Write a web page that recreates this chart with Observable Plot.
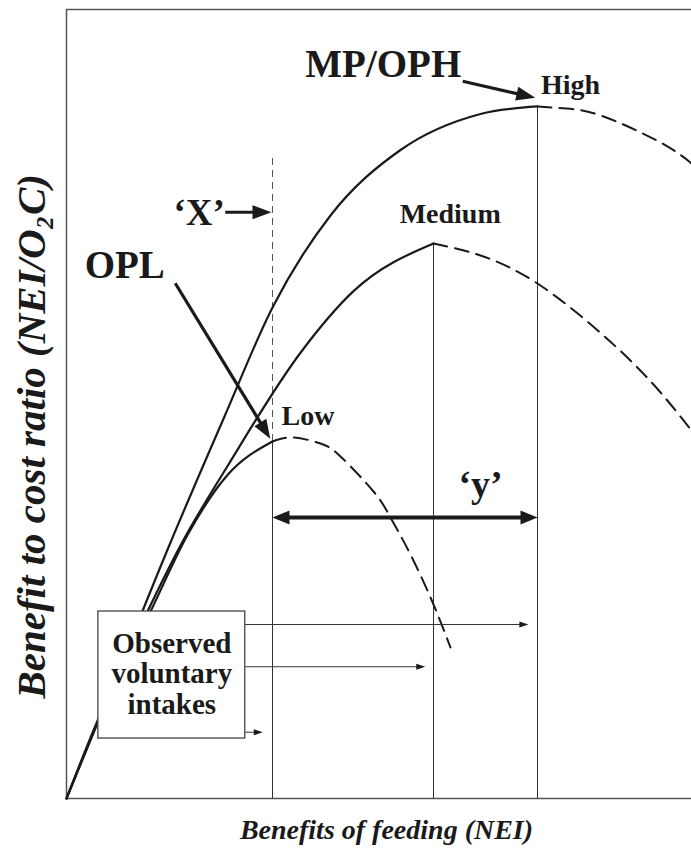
<!DOCTYPE html>
<html><head><meta charset="utf-8">
<script src="https://cdn.jsdelivr.net/npm/d3@7"></script>
<script src="https://cdn.jsdelivr.net/npm/@observablehq/plot@0.6"></script>
<style>body{margin:0;background:#fff}</style>
</head><body><div id="chart"></div>
<script>
// ---- data (arbitrary NEI units on x, benefit:cost units on y) ----
const highSolidX = [0, 5.12, 16.64, 25.28, 32.96, 42.24, 53.44, 66.24, 75.36];
const highSolidY = [0, 9.89, 32.45, 48.42, 62.23, 73.89, 82.19, 86.76, 87.71];
const highDashX = [75.36, 80, 85.92, 95.04, 100];
const highDashY = [87.71, 87.45, 86.44, 83.14, 80.5];
const medSolidX = [0, 5.12, 12.96, 18.24, 25.92, 37.44, 45.92, 58.72];
const medSolidY = [0, 9.89, 23.7, 32.07, 42.33, 56.5, 64.3, 70.34];
const medDashX = [58.72, 66.24, 75.36, 85.92, 93.92, 100];
const medDashY = [70.34, 68.82, 65.27, 58.68, 52.47, 46.64];
const lowSolidX = [0, 5.12, 13.44, 19.36, 25.76, 32.96];
const lowSolidY = [0, 10.14, 23.7, 33.4, 41.0, 45.25];
const lowDashX = [32.96, 36.32, 40.64, 43.84, 49.12, 51.84, 55.04, 58.72, 61.44];
const lowDashY = [45.25, 45.75, 44.99, 43.35, 38.91, 35.61, 30.92, 24.59, 19.14];

const peakNames = ["High", "Medium", "Low"];
const peakX = [75.36, 58.72, 32.96];
const peakY = [87.71, 70.34, 45.25];
const peakLabelX = [75.9, 53.3, 34.4];
const peakLabelY = [89.35, 73.0, 47.4];

const xLineX = [32.96];
const xLineTop = [81.5];

const calloutText = ["MP/OPH", "OPL", "\u2018X\u2019", "\u2018y\u2019"];
const calloutTextX = [38.2, 2.9, 17.1, 62.7];
const calloutTextY = [91.4, 66.0, 72.75, 38.15];
const calloutSize = [39, 39, 37, 38];

const pointerFromX = [63.4, 17.4, 25.4];
const pointerFromY = [90.9, 65.3, 74.3];
const pointerToX = [75.0, 32.6, 32.8];
const pointerToY = [88.8, 45.6, 74.3];

const spanFromX = [32.96];
const spanToX = [75.36];
const spanY = [35.6];

const intakeY = [22.05, 16.7, 8.4];
const intakeFromX = [28.6, 28.6, 28.6];
const intakeToX = [73.9, 57.4, 31.4];

const boxX = [5.1, 28.6];
const boxY = [7.6, 23.7];
const boxLines = ["Observed", "voluntary", "intakes"];
const boxLineY = [19.6, 15.8, 11.9];

const xTitle = "Benefits of feeding (NEI)";
const yTitle = "Benefit to cost ratio (NEI/O\u2082C)";

// ---- layout ----
const W = 691, H = 848, ML = 66, MR = 0, MT = 9, MB = 50;
const xs = Plot.scale({x: {domain: [0, 100], range: [ML, W - MR]}});
const ys = Plot.scale({y: {domain: [0, 100], range: [H - MB, MT]}});
const serif = "'Liberation Serif','Times New Roman',Times,serif";
const ink = "#1a1a1a";

const zip = (xa, ya) => xa.map((x, i) => ({x, y: ya[i]}));

function head(L, Wd) {
  return {draw(ctx) { ctx.moveTo(0, 0); ctx.lineTo(-Wd / 2, L); ctx.lineTo(Wd / 2, L); ctx.closePath(); }};
}
function buildArrows(list, L) {
  const shafts = [], heads = [];
  for (const a of list) {
    const p1 = [xs.apply(a.x1), ys.apply(a.y1)], p2 = [xs.apply(a.x2), ys.apply(a.y2)];
    const len = Math.hypot(p2[0] - p1[0], p2[1] - p1[1]);
    const ux = (p2[0] - p1[0]) / len, uy = (p2[1] - p1[1]) / len;
    const ang = Math.atan2(ux, -uy) * 180 / Math.PI;
    let s = p1, e = [p2[0] - ux * L * 0.7, p2[1] - uy * L * 0.7];
    heads.push({x: a.x2, y: a.y2, angle: ang});
    if (a.both) {
      s = [p1[0] + ux * L * 0.7, p1[1] + uy * L * 0.7];
      heads.push({x: a.x1, y: a.y1, angle: ang + 180});
    }
    shafts.push({x1: xs.invert(s[0]), y1: ys.invert(s[1]), x2: xs.invert(e[0]), y2: ys.invert(e[1])});
  }
  return {shafts, heads};
}

const pointers = buildArrows(pointerFromX.map((x, i) => ({x1: x, y1: pointerFromY[i], x2: pointerToX[i], y2: pointerToY[i]})), 19);
const span = buildArrows(spanFromX.map((x, i) => ({x1: x, y1: spanY[i], x2: spanToX[i], y2: spanY[i], both: true})), 17);
const intakes = buildArrows(intakeY.map((y, i) => ({x1: intakeFromX[i], y1: y, x2: intakeToX[i], y2: y})), 9);

const peaks = peakNames.map((n, i) => ({n, x: peakX[i], y: peakY[i], lx: peakLabelX[i], ly: peakLabelY[i]}));
const callouts = calloutText.map((t, i) => ({t, x: calloutTextX[i], y: calloutTextY[i], s: calloutSize[i]}));

const marks = [
  // frame
  Plot.ruleX([0], {y1: 0, y2: 100, stroke: "#555", strokeWidth: 1.5}),
  Plot.ruleY([0, 100], {x1: 0, x2: 100, stroke: "#555", strokeWidth: 1.5}),
  // verticals at peaks
  Plot.ruleX(peaks, {x: "x", y1: 0, y2: "y", stroke: "#333", strokeWidth: 1}),
  Plot.ruleX(xLineX.map((x, i) => ({x, top: xLineTop[i]})), {x: "x", y1: peakY[2], y2: "top", stroke: "#555", strokeWidth: 1, strokeDasharray: "7,5"}),
  // curves
  ...[[highSolidX, highSolidY], [medSolidX, medSolidY], [lowSolidX, lowSolidY]].map(([xa, ya]) =>
    Plot.line(zip(xa, ya), {x: "x", y: "y", curve: "monotone-x", stroke: ink, strokeWidth: 2.2})),
  ...[[highDashX, highDashY], [medDashX, medDashY], [lowDashX, lowDashY]].map(([xa, ya]) =>
    Plot.line(zip(xa, ya), {x: "x", y: "y", curve: "natural", stroke: ink, strokeWidth: 2, strokeDasharray: "14,8"})),
  // observed intakes box
  Plot.rect([{x1: boxX[0], x2: boxX[1], y1: boxY[0], y2: boxY[1]}], {x1: "x1", x2: "x2", y1: "y1", y2: "y2", fill: "white", stroke: "#444", strokeWidth: 1.3}),
  Plot.text(boxLines.map((t, i) => ({t, y: boxLineY[i]})), {x: (boxX[0] + boxX[1]) / 2, y: "y", text: "t", fontFamily: serif, fontWeight: "bold", fontSize: 29, fill: ink, lineAnchor: "middle"}),
  // arrows
  Plot.link(pointers.shafts, {x1: "x1", y1: "y1", x2: "x2", y2: "y2", stroke: ink, strokeWidth: 3.2}),
  Plot.dot(pointers.heads, {x: "x", y: "y", rotate: "angle", symbol: head(19, 14), r: 5, fill: ink, stroke: "none"}),
  Plot.link(span.shafts, {x1: "x1", y1: "y1", x2: "x2", y2: "y2", stroke: ink, strokeWidth: 4}),
  Plot.dot(span.heads, {x: "x", y: "y", rotate: "angle", symbol: head(17, 14), r: 5, fill: ink, stroke: "none"}),
  Plot.link(intakes.shafts, {x1: "x1", y1: "y1", x2: "x2", y2: "y2", stroke: "#333", strokeWidth: 1}),
  Plot.dot(intakes.heads, {x: "x", y: "y", rotate: "angle", symbol: head(9, 6), r: 3, fill: ink, stroke: "none"}),
  // labels
  Plot.text(peaks, {x: "lx", y: "ly", text: "n", textAnchor: "start", lineAnchor: "bottom", fontFamily: serif, fontWeight: "bold", fontSize: 28, fill: ink}),
  ...callouts.map(c => Plot.text([c], {x: "x", y: "y", text: "t", textAnchor: "start", lineAnchor: "bottom", fontFamily: serif, fontWeight: "bold", fontSize: c.s, fill: ink})),
  // axis titles
  Plot.text([xTitle], {x: 51.2, y: -5.07, text: d => d, lineAnchor: "bottom", fontFamily: serif, fontWeight: "bold", fontStyle: "italic", fontSize: 28, fill: ink}),
  Plot.text([yTitle], {x: -5.6, y: 45.9, text: d => d, rotate: -90, lineAnchor: "middle", fontFamily: serif, fontWeight: "bold", fontStyle: "italic", fontSize: 41, fill: ink})
];

const chart = Plot.plot({
  width: W, height: H,
  marginLeft: ML, marginRight: MR, marginTop: MT, marginBottom: MB,
  x: {domain: [0, 100], axis: null},
  y: {domain: [0, 100], axis: null},
  style: {background: "white", overflow: "visible"},
  marks
});
document.getElementById("chart").appendChild(chart);
</script>
</body></html>
